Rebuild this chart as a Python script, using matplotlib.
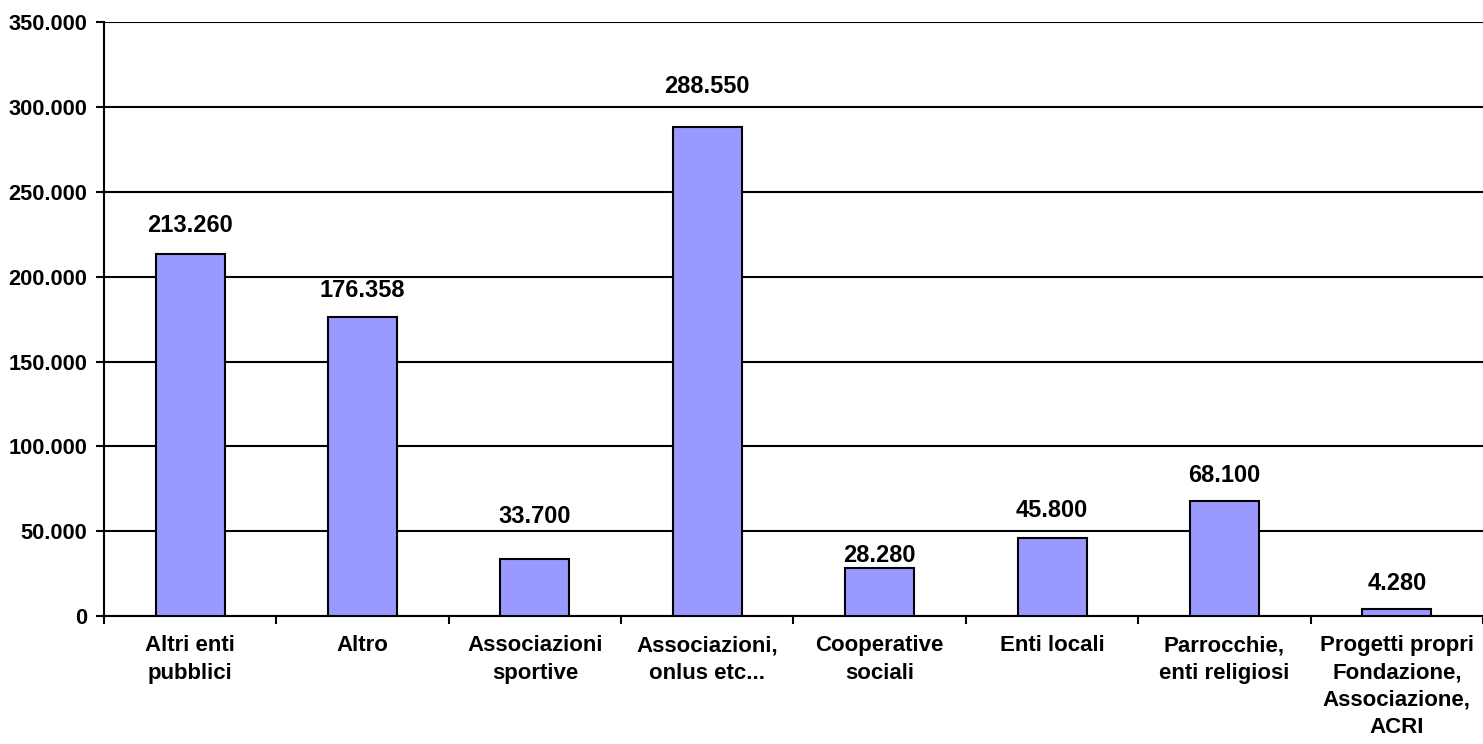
import matplotlib
matplotlib.use("Agg")
import matplotlib.pyplot as plt
from matplotlib.ticker import FuncFormatter

# Data
categories = ["Altri enti\npubblici", "Altro", "Associazioni\nsportive",
              "Associazioni,\nonlus etc...", "Cooperative\nsociali", "Enti locali",
              "Parrocchie,\nenti religiosi",
              "Progetti propri\nFondazione,\nAssociazione,\nACRI"]
values = [213260, 176358, 33700, 288550, 28280, 45800, 68100, 4280]
y_ticks = [0, 50000, 100000, 150000, 200000, 250000, 300000, 350000]

# gap (pixels) between bar top and value label baseline; a few labels were moved by hand
label_gaps = [22, 20, 36, 34, 6, 21, 19, 19]

BAR_COLOR = "#9999FF"
FONT = "Liberation Sans"


# Italian-style thousands separator
def fmt_it(v, pos=None):
    return "{:,.0f}".format(v).replace(",", ".")


def main():
    fig = plt.figure(figsize=(14.83, 7.44), dpi=100)
    ax = fig.add_axes([0.0701, 0.172, 0.9299, 0.798])

    x = list(range(len(values)))
    ax.bar(x, values, width=0.4, color=BAR_COLOR, edgecolor="black", linewidth=1.5, zorder=3)

    for xi, v, gap in zip(x, values, label_gaps):
        ax.annotate(fmt_it(v), (xi, v), xytext=(0, gap), textcoords="offset pixels",
                    ha="center", va="baseline", fontsize=17, fontweight="bold", family=FONT)

    ax.set_xlim(-0.5, len(values) - 0.5)
    ax.set_ylim(0, 350000)
    ax.set_yticks(y_ticks)
    ax.yaxis.set_major_formatter(FuncFormatter(fmt_it))
    ax.yaxis.grid(True, color="black", linewidth=1.5, zorder=0)

    ax.set_xticks([i - 0.5 for i in range(len(values) + 1)])
    ax.set_xticklabels([])
    ax.set_xticks(x, minor=True)
    ax.set_xticklabels(categories, minor=True, fontsize=16, fontweight="bold",
                       family=FONT, linespacing=1.38)
    ax.tick_params(axis="x", which="minor", length=0, pad=14)
    ax.tick_params(axis="x", which="major", length=6, width=1.5, direction="out")
    ax.tick_params(axis="y", length=6, width=1.5, pad=6)
    for lbl in ax.get_yticklabels():
        lbl.set_fontsize(15.7)
        lbl.set_fontweight("bold")
        lbl.set_family(FONT)

    for side in ["top", "right"]:
        ax.spines[side].set_visible(False)
    ax.spines["left"].set_linewidth(1.5)
    ax.spines["bottom"].set_linewidth(1.5)

    plt.savefig("out.png", dpi=100)


if __name__ == "__main__":
    main()
